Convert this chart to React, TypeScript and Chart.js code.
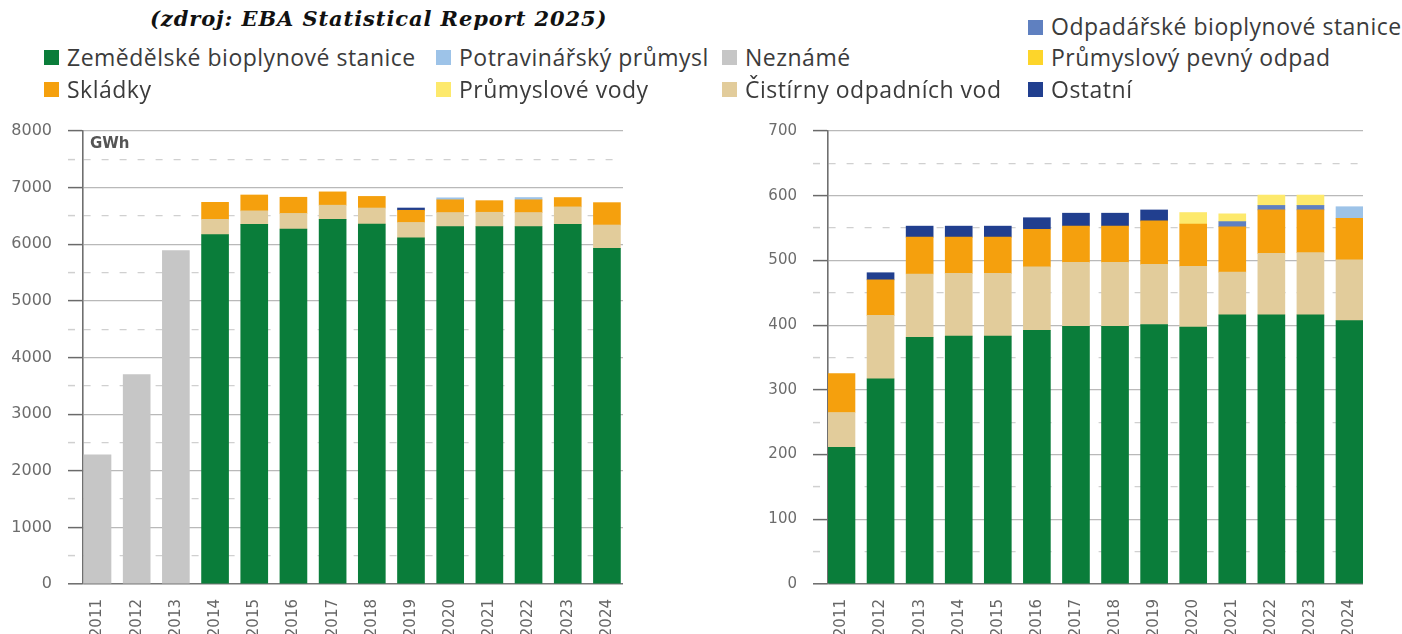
import React, { useEffect, useRef } from 'react';
import { Chart, registerables } from 'chart.js';

Chart.register(...registerables);

// ---------- DATA ----------
const years = [2011, 2012, 2013, 2014, 2015, 2016, 2017, 2018, 2019, 2020, 2021, 2022, 2023, 2024];

const seriesNames = [
  'Zemědělské bioplynové stanice',
  'Neznámé',
  'Čistírny odpadních vod',
  'Skládky',
  'Odpadářské bioplynové stanice',
  'Potravinářský průmysl',
  'Průmyslové vody',
  'Průmyslový pevný odpad',
  'Ostatní',
];

// Left chart (GWh)
const leftZemedelske = [0, 0, 0, 6170, 6350, 6270, 6440, 6355, 6115, 6310, 6310, 6310, 6350, 5930];
const leftNezname = [2280, 3700, 5890, 0, 0, 0, 0, 0, 0, 0, 0, 0, 0, 0];
const leftCistirny = [0, 0, 0, 270, 240, 275, 250, 285, 270, 250, 255, 250, 310, 410];
const leftSkladky = [0, 0, 0, 300, 280, 285, 235, 205, 215, 225, 205, 225, 165, 395];
const leftOdpadarske = [0, 0, 0, 0, 0, 0, 0, 0, 0, 0, 0, 0, 0, 0];
const leftPotravinarsky = [0, 0, 0, 0, 0, 0, 0, 0, 0, 35, 0, 40, 0, 0];
const leftPrumVody = [0, 0, 0, 0, 0, 0, 0, 0, 0, 0, 0, 0, 0, 0];
const leftPrumOdpad = [0, 0, 0, 0, 0, 0, 0, 0, 0, 0, 0, 0, 0, 0];
const leftOstatni = [0, 0, 0, 0, 0, 0, 0, 0, 40, 0, 0, 0, 0, 0];

// Right chart
const rightZemedelske = [211, 317, 381, 383, 383, 392, 398, 398, 401, 397, 416, 416, 416, 407];
const rightNezname = [0, 0, 0, 0, 0, 0, 0, 0, 0, 0, 0, 0, 0, 0];
const rightCistirny = [54, 98, 98, 97, 97, 98, 99, 99, 93, 94, 66, 95, 96, 94];
const rightSkladky = [60, 55, 57, 56, 56, 58, 56, 56, 67, 65, 70, 67, 66, 64];
const rightOdpadarske = [0, 0, 0, 0, 0, 0, 0, 0, 0, 0, 8, 7, 7, 0];
const rightPotravinarsky = [0, 0, 0, 0, 0, 0, 0, 0, 0, 0, 0, 0, 0, 18];
const rightPrumVody = [0, 0, 0, 0, 0, 0, 0, 0, 0, 18, 12, 16, 16, 0];
const rightPrumOdpad = [0, 0, 0, 0, 0, 0, 0, 0, 0, 0, 0, 0, 0, 0];
const rightOstatni = [0, 11, 17, 17, 17, 18, 20, 20, 17, 0, 0, 0, 0, 0];

const leftTickMax = 8000;
const leftTickStep = 500;
const leftMajor = 1000;
const rightTickMax = 700;
const rightTickStep = 50;
const rightMajor = 100;

// ---------- STYLE ----------
const colors = [
  '#0a7d3a', // Zemědělské
  '#c6c6c6', // Neznámé
  '#e2cc9b', // Čistírny
  '#f5a00d', // Skládky
  '#5f80c0', // Odpadářské
  '#9dc3e8', // Potravinářský
  '#fde96c', // Průmyslové vody
  '#fdd52a', // Průmyslový pevný odpad
  '#213f8f', // Ostatní
];

const legendItems: { name: string; color: string; x: number; row: number }[] = [
  { name: 'Odpadářské bioplynové stanice', color: colors[4], x: 1028, row: 0 },
  { name: 'Zemědělské bioplynové stanice', color: colors[0], x: 44, row: 1 },
  { name: 'Potravinářský průmysl', color: colors[5], x: 436, row: 1 },
  { name: 'Neznámé', color: colors[1], x: 722, row: 1 },
  { name: 'Průmyslový pevný odpad', color: colors[7], x: 1028, row: 1 },
  { name: 'Skládky', color: colors[3], x: 44, row: 2 },
  { name: 'Průmyslové vody', color: colors[6], x: 436, row: 2 },
  { name: 'Čistírny odpadních vod', color: colors[2], x: 722, row: 2 },
  { name: 'Ostatní', color: colors[8], x: 1028, row: 2 },
];
const rowBaselines = [35.5, 66, 98];

function buildDatasets(arrs: number[][]) {
  return arrs.map((d, i) => ({
    label: seriesNames[i],
    // empty segments are left out so they leave no hairline
    data: d.map((v) => (v === 0 ? null : v)),
    backgroundColor: colors[i],
    borderWidth: 0,
    barThickness: 27,
  }));
}

type ChartProps = {
  datasets: any[];
  yMax: number;
  yStep: number;
  major: number;
  xMin: number;
  xMax: number;
  left: number;
  top: number;
  width: number;
  height: number;
  yWidth: number;
  padTop: number;
  padRight: number;
  yFont: number;
  xAxisHeight: number;
};

function StackedChart(p: ChartProps) {
  const ref = useRef<HTMLCanvasElement>(null);
  useEffect(() => {
    const isMajor = (c: any) => c.tick && Math.round(c.tick.value) % p.major === 0;
    const chart = new Chart(ref.current as HTMLCanvasElement, {
      type: 'bar',
      data: { labels: years as any, datasets: p.datasets },
      options: {
        responsive: false,
        animation: false,
        layout: { padding: { top: p.padTop, right: p.padRight, left: 0, bottom: 0 } },
        plugins: { legend: { display: false }, tooltip: { enabled: false } },
        scales: {
          x: {
            type: 'linear',
            min: p.xMin,
            max: p.xMax,
            offset: false,
            stacked: true,
            afterBuildTicks: (s: any) => {
              s.ticks = years.map((v) => ({ value: v }));
            },
            afterFit: (s: any) => {
              s.height = p.xAxisHeight;
            },
            grid: { display: false, drawTicks: false, offset: false },
            border: { display: false },
            ticks: {
              autoSkip: false,
              minRotation: 90,
              maxRotation: 90,
              padding: 15,
              color: '#666666',
              font: { family: 'DejaVu Sans', size: 15 },
              callback: (v: any) => String(v),
            },
          },
          y: {
            min: 0,
            max: p.yMax,
            stacked: true,
            afterFit: (s: any) => {
              s.width = p.yWidth;
            },
            ticks: {
              stepSize: p.yStep,
              autoSkip: false,
              padding: 16,
              color: '#6c6c6c',
              font: { family: 'DejaVu Sans', size: p.yFont },
              callback: (v: any) => (Math.round(v) % p.major === 0 ? String(v) : ''),
            },
            grid: {
              color: (c: any) =>
                c.tick && c.tick.value === 0 ? '#777777' : isMajor(c) ? '#b9b9b9' : '#d0d0d0',
              lineWidth: (c: any) => (c.tick && c.tick.value === 0 ? 1.6 : 1.2),
              tickLength: 15,
              tickWidth: 1.5,
              tickColor: (c: any) => (isMajor(c) ? '#6a6a6a' : '#d0d0d0'),
              tickBorderDash: (c: any) => (isMajor(c) ? [] : [7, 11]),
            },
            border: {
              display: true,
              color: '#6f6f6f',
              width: 1.6,
              dash: (c: any) => (c.tick && !isMajor(c) ? [7, 11] : []),
            },
          },
        },
      } as any,
    });
    return () => chart.destroy();
  }, []);
  return (
    <canvas
      ref={ref}
      width={p.width}
      height={p.height}
      style={{ position: 'absolute', left: p.left, top: p.top, width: p.width, height: p.height }}
    />
  );
}

export default function App() {
  useEffect(() => {
    document.body.style.margin = '0';
  }, []);

  const leftSets = buildDatasets([
    leftZemedelske, leftNezname, leftCistirny, leftSkladky, leftOdpadarske,
    leftPotravinarsky, leftPrumVody, leftPrumOdpad, leftOstatni,
  ]);
  const rightSets = buildDatasets([
    rightZemedelske, rightNezname, rightCistirny, rightSkladky, rightOdpadarske,
    rightPotravinarsky, rightPrumVody, rightPrumOdpad, rightOstatni,
  ]);

  const legendFont = 23;
  // chart area: top at y=131, bottom at y=584
  const canvasTop = 101;
  const padTop = 30;
  const canvasHeight = 634 - canvasTop;
  const xAxisHeight = 634 - 584;

  return (
    <div style={{ position: 'relative', width: 1402, height: 634, overflow: 'hidden', background: '#fff' }}>
      <StackedChart
        datasets={leftSets}
        yMax={leftTickMax}
        yStep={leftTickStep}
        major={leftMajor}
        xMin={2011 - 0.37}
        xMax={2024 + 0.41}
        left={0}
        top={canvasTop}
        width={650}
        height={canvasHeight}
        yWidth={83}
        padTop={padTop}
        padRight={27}
        yFont={16}
        xAxisHeight={xAxisHeight}
      />
      <StackedChart
        datasets={rightSets}
        yMax={rightTickMax}
        yStep={rightTickStep}
        major={rightMajor}
        xMin={2011 - 0.345}
        xMax={2024 + 0.345}
        left={700}
        top={canvasTop}
        width={702}
        height={canvasHeight}
        yWidth={128}
        padTop={padTop}
        padRight={39}
        yFont={15}
        xAxisHeight={xAxisHeight}
      />

      <div
        style={{
          position: 'absolute',
          left: 150,
          top: 7,
          fontFamily: 'DejaVu Serif',
          fontWeight: 'bold',
          fontStyle: 'italic',
          fontSize: 21,
          lineHeight: '24px',
          letterSpacing: '0.9px',
          color: '#111',
          whiteSpace: 'nowrap',
        }}
      >
        (zdroj: EBA Statistical Report 2025)
      </div>

      {legendItems.map((it) => {
        const base = rowBaselines[it.row];
        return (
          <React.Fragment key={it.name}>
            <div
              style={{
                position: 'absolute',
                left: it.x,
                top: base - 16,
                width: 15,
                height: 15,
                background: it.color,
              }}
            />
            <div
              style={{
                position: 'absolute',
                left: it.x + 23,
                top: base - 0.888 * legendFont,
                fontFamily: 'Open Sans',
                fontSize: legendFont,
                lineHeight: `${legendFont}px`,
                letterSpacing: '0.5px',
                color: '#3b3b3b',
                whiteSpace: 'nowrap',
              }}
            >
              {it.name}
            </div>
          </React.Fragment>
        );
      })}

      <div
        style={{
          position: 'absolute',
          left: 90,
          top: 136,
          fontFamily: 'DejaVu Sans',
          fontWeight: 'bold',
          fontSize: 15,
          lineHeight: '15px',
          color: '#555',
        }}
      >
        GWh
      </div>
    </div>
  );
}
